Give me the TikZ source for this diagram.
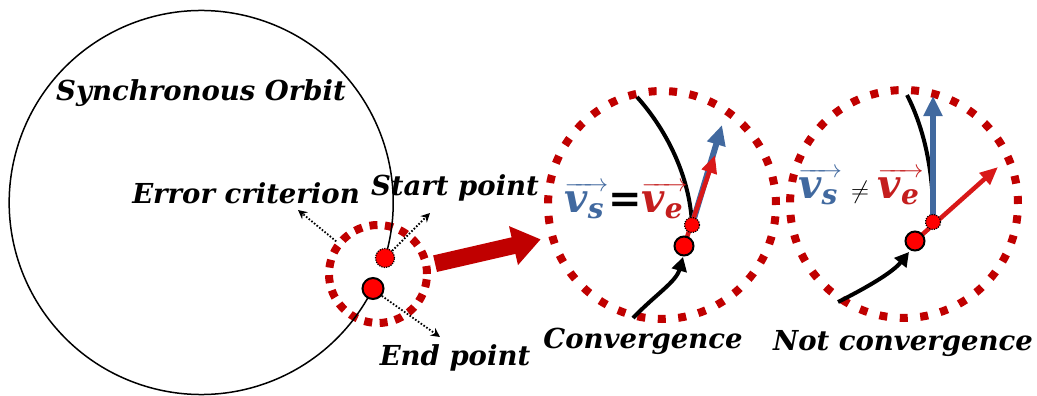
\documentclass[tikz,border=0pt]{standalone}
\usepackage{amsmath}
\usepackage{fontspec}
\setmainfont{DejaVu Serif}
\usetikzlibrary{arrows.meta}
\definecolor{dkred}{HTML}{C00000}
\definecolor{ptred}{HTML}{FF0000}
\definecolor{vblue}{HTML}{41699F}
\definecolor{vred}{HTML}{C41E1E}
\definecolor{arred}{HTML}{D81818}
\newcommand\myvec[2]{\overrightarrow{\text{#1}_{\text{#2}}\,}}
\begin{document}
\begin{tikzpicture}[x=1pt,y=-1pt,
  lbl/.style={font=\fontsize{27.5}{32}\selectfont\bfseries\itshape, anchor=base, inner sep=0pt},
  vtx/.style={font=\fontsize{40}{46}\selectfont\bfseries\itshape, anchor=base, inner sep=0pt},
  orbit/.style={line width=1.5pt},
  crit/.style={draw=dkred, line width=8pt, dash pattern=on 8pt off 7.5pt, circle, inner sep=0pt, minimum size=98pt},
  zoomc/.style={draw=dkred, line width=8pt, dash pattern=on 8pt off 12.5pt, circle, inner sep=0pt, minimum size=228pt},
  spt/.style={circle, fill=ptred, draw=black, dash pattern=on 1.2pt off 1.2pt, line width=1.2pt, minimum size=19pt, inner sep=0pt},
  ept/.style={circle, fill=ptred, draw=black, line width=2pt, minimum size=21pt, inner sep=0pt},
  ptr/.style={dash pattern=on 1.6pt off 1.8pt, line width=1.8pt, -{Stealth[length=9pt,width=9pt]}},
  trk/.style={line width=4pt},
  trkarr/.style={line width=4pt, -{Triangle[length=14pt,width=15pt]}},
  bluearr/.style={draw=vblue, line width=6pt, -{Triangle[length=20pt,width=18pt]}},
  redarr/.style={draw=arred, line width=4.5pt, -{Triangle[length=18pt,width=15pt]}},
  bigarr/.style={draw=dkred, line width=17pt, -{Triangle[length=28pt,width=38pt]}}
]
\useasboundingbox (0,0) rectangle (1037,396);

% ---------- left: orbit ----------
\coordinate (S) at (385,258);
\coordinate (E) at (373,288.5);
\node[crit] (ec) at (378,274) {};
\draw[orbit] (S) arc[start angle=16.8, end angle=-333.4, radius=192];
\node[spt] (sp) at (S) {};
\node[ept] (ep) at (E) {};

\node[lbl] (so) at (201,100) {Synchronous Orbit};
\node[lbl] (err) at (246,203) {Error criterion};
\node[lbl] (st) at (455,195) {Start point};
\node[lbl] (en) at (455,365) {End point};

\coordinate (errtip) at (298,210);
\coordinate (sttip) at (430,213);
\coordinate (entip) at (440,337);
\draw[ptr] (ec.142) -- (errtip);
\draw[ptr] (sp.45) -- (sttip);
\draw[ptr] (ep.-40) -- (entip);

% ---------- zoom circles ----------
\node[zoomc] (mc) at (662,205) {};
\node[zoomc] (rc) at (904,204) {};
\draw[bigarr, shorten <=5pt, shorten >=8pt] (ec.10) -- (mc.196);

% ---------- convergence ----------
\coordinate (S2) at (692,225);
\coordinate (E2) at (684,246);
\coordinate (bt2) at (722,125);
\coordinate (rt2) at (715,155);
\coordinate (a2) at (637,97);
\coordinate (b2) at (633,318);
\draw[trk] (a2) .. controls (665,128) and (690,175) .. (S2);
\draw[trkarr] (b2) .. controls (655,295) and (676,282) .. (683,257);
\draw[bluearr] (S2) -- (bt2);
\draw[redarr] (E2) -- (rt2);
\node[spt, minimum size=15pt] (sp2) at (S2) {};
\node[ept, minimum size=19pt] (ep2) at (E2) {};
\node[vtx] (eq1) at (626,212) {{\color{vblue}$\myvec{v}{s}$}={\color{vred}$\myvec{v}{e}$}};
\node[lbl] (conv) at (643,348) {Convergence};

% ---------- not convergence ----------
\coordinate (S3) at (933,222);
\coordinate (E3) at (915,241);
\coordinate (bt3) at (933,96);
\coordinate (rt3) at (998,167);
\coordinate (a3) at (907,95);
\coordinate (b3) at (838,302);
\draw[trk] (a3) .. controls (925,130) and (934,175) .. (S3);
\draw[trkarr] (b3) .. controls (868,287) and (893,272) .. (909,252);
\draw[bluearr] (S3) -- (bt3);
\draw[redarr] (E3) -- (rt3);
\node[spt, minimum size=15pt] (sp3) at (S3) {};
\node[ept, minimum size=19pt] (ep3) at (E3) {};
\node[vtx] (eq2) at (861,198) {{\color{vblue}$\myvec{v}{s}$}\hspace{9pt}$\neq$\hspace{9pt}{\color{vred}$\myvec{v}{e}$}};
\node[lbl] (nconv) at (903,350) {Not convergence};
\end{tikzpicture}
\end{document}
